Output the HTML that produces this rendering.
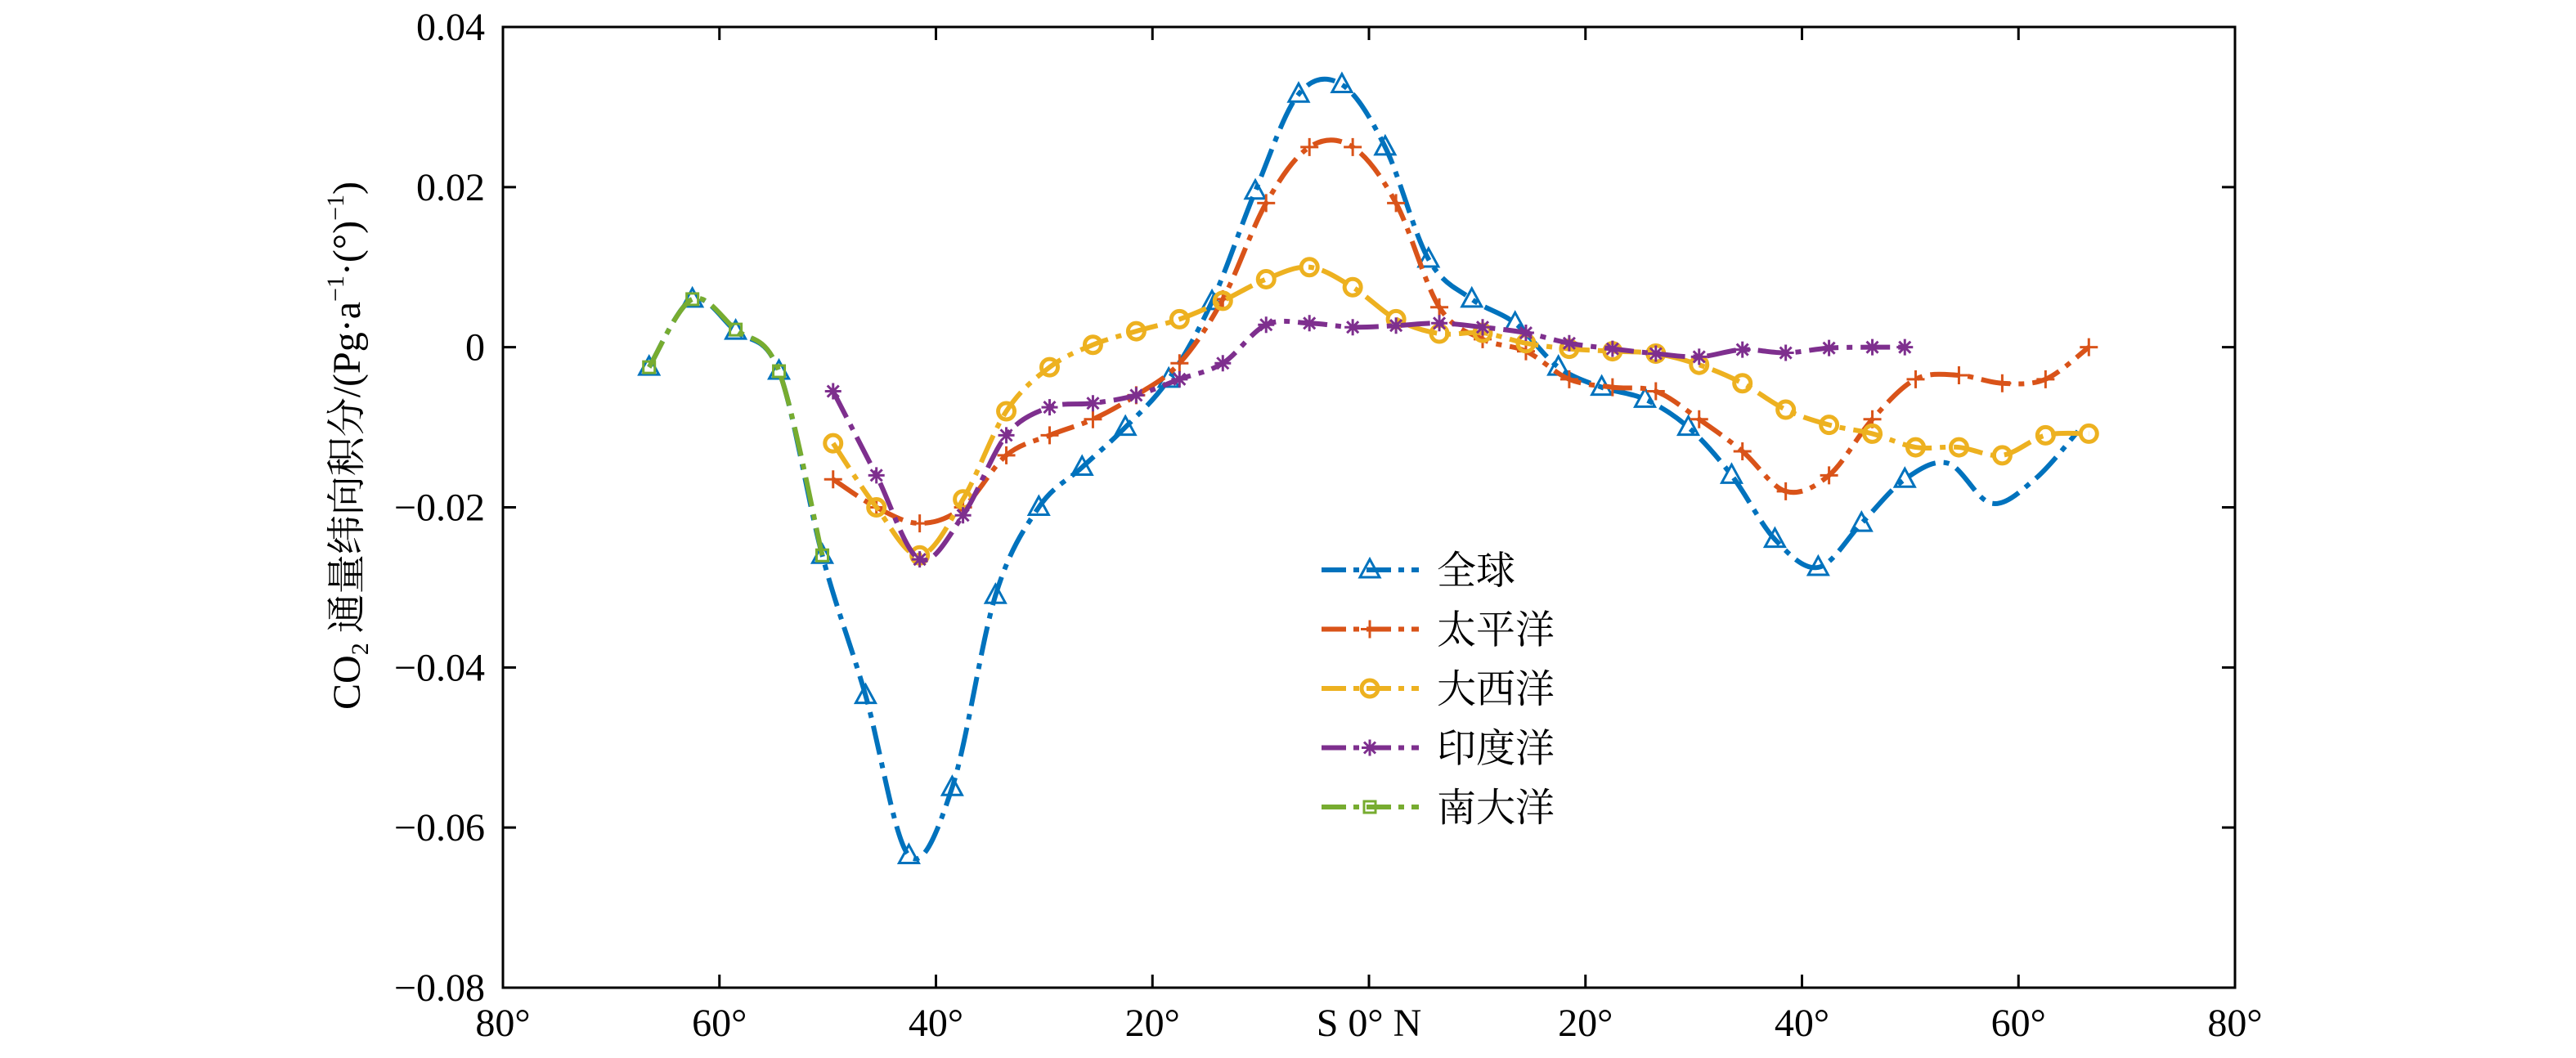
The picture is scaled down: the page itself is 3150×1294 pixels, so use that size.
<!DOCTYPE html>
<html><head><meta charset="utf-8"><style>
html,body{margin:0;padding:0;background:#fff;}
svg text{font-family:"Liberation Serif","Noto Serif CJK SC",serif;fill:#000;}
</style></head><body>
<svg id="chart" width="3150" height="1289" viewBox="0 0 3150 1289" xmlns="http://www.w3.org/2000/svg">
<g id="plot"></g>
</svg>
<script>
const lats = [-49.5,-45.5,-41.5,-37.5,-33.5,-29.5,-25.5,-21.5,-17.5,-13.5,-9.5,-5.5,-1.5,2.5,6.5,10.5,14.5,18.5,22.5,26.5,30.5,34.5,38.5,42.5,46.5,50.5,54.5,58.5,62.5,66.5];
const globalLats = [-66.5,-62.5,-58.5,-54.5,-50.5,-46.5,-42.5,-38.5,-34.5,-30.5,-26.5,-22.5,-18.5,-14.5,-10.5,-6.5,-2.5,1.5,5.5,9.5,13.5,17.5,21.5,25.5,29.5,33.5,37.5,41.5,45.5,49.5,53.5,57.5,61.5,65.5];
const globalVals = [-0.0025,0.006,0.002,-0.003,-0.026,-0.0435,-0.0635,-0.055,-0.031,-0.020,-0.015,-0.010,-0.004,0.0057,0.0195,0.0316,0.0328,0.025,0.011,0.006,0.003,-0.0025,-0.005,-0.0065,-0.010,-0.016,-0.024,-0.0275,-0.022,-0.0165,-0.0145,-0.0195,-0.0165,-0.0105];
const pacificVals = [-0.0165,-0.020,-0.022,-0.020,-0.0135,-0.011,-0.009,-0.006,-0.002,0.006,0.018,0.025,0.025,0.018,0.005,0.001,-0.0005,-0.004,-0.005,-0.0055,-0.009,-0.013,-0.018,-0.016,-0.009,-0.004,-0.0035,-0.0045,-0.004,0];
const atlanticVals = [-0.012,-0.020,-0.026,-0.019,-0.008,-0.0025,0.0003,0.002,0.0035,0.0058,0.0085,0.010,0.0075,0.0035,0.0017,0.0018,0.0005,-0.0002,-0.0005,-0.0008,-0.0022,-0.0045,-0.0078,-0.0097,-0.0108,-0.0125,-0.0125,-0.0135,-0.011,-0.0108];
const indianLats = [-49.5,-45.5,-41.5,-37.5,-33.5,-29.5,-25.5,-21.5,-17.5,-13.5,-9.5,-5.5,-1.5,2.5,6.5,10.5,14.5,18.5,22.5,26.5,30.5,34.5,38.5,42.5,46.5,49.5];
const indianVals = [-0.0055,-0.016,-0.0265,-0.021,-0.011,-0.0075,-0.007,-0.006,-0.004,-0.002,0.0028,0.003,0.0025,0.0027,0.003,0.0025,0.0018,0.0005,-0.0002,-0.0008,-0.0012,-0.0003,-0.0007,-0.0001,0,0];
const southernLats = [-66.5,-62.5,-58.5,-54.5,-50.5];
const southernVals = [-0.0025,0.006,0.0022,-0.003,-0.026];
const xTicks = [-80,-60,-40,-20,0,20,40,60,80];
const xTickLabels = ["80°","60°","40°","20°","S 0° N","20°","40°","60°","80°"];
const yTicks = [-0.08,-0.06,-0.04,-0.02,0,0.02,0.04];
const yTickLabels = ["−0.08","−0.06","−0.04","−0.02","0","0.02","0.04"];

const L=615,R=2733,T=33,B=1208;
const X=v=>L+(v+80)/160*(R-L);
const Y=v=>B-(v+0.08)/0.12*(B-T);
const NS="http://www.w3.org/2000/svg";
const g=document.getElementById('plot');
function mk(tag,attrs,parent){const e=document.createElementNS(NS,tag);for(const k in attrs)e.setAttribute(k,attrs[k]);(parent||g).appendChild(e);return e;}

const box=mk('rect',{x:L,y:T,width:R-L,height:B-T,fill:'none',stroke:'#000','stroke-width':3});


xTicks.forEach((t,i)=>{
  const x=X(t);
  const tk=mk('path',{d:`M${x},${B}v-16M${x},${T}v16`,stroke:'#000','stroke-width':3});
  
  
  const tx=mk('text',{x:x,y:1267,'font-size':48,'text-anchor':'middle'});
  tx.textContent=xTickLabels[i];
  
  
});
yTicks.forEach((t,i)=>{
  const y=Y(t);
  const tk=mk('path',{d:`M${L},${y}h16M${R},${y}h-16`,stroke:'#000','stroke-width':3});
  
  
  const tx=mk('text',{x:593,y:y+16,'font-size':48,'text-anchor':'end'});
  tx.textContent=yTickLabels[i];
  
  
});
const yl=mk('text',{x:0,y:0,'font-size':48,'text-anchor':'middle',transform:'translate(440,545) rotate(-90)'});
yl.innerHTML='CO<tspan font-size="30" dy="10">2</tspan><tspan dy="-10"> 通量纬向积分/(Pg·a</tspan><tspan font-size="30" dy="-20">−1</tspan><tspan dy="20">·(°)</tspan><tspan font-size="30" dy="-20">−1</tspan><tspan dy="20">)</tspan>';



function spline(pts){
  let d=`M${pts[0][0]},${pts[0][1]}`;
  for(let i=0;i<pts.length-1;i++){
    const p0=pts[Math.max(i-1,0)],p1=pts[i],p2=pts[i+1],p3=pts[Math.min(i+2,pts.length-1)];
    const c1=[p1[0]+(p2[0]-p0[0])/6,p1[1]+(p2[1]-p0[1])/6],c2=[p2[0]-(p3[0]-p1[0])/6,p2[1]-(p3[1]-p1[1])/6];
    d+=`C${c1[0]},${c1[1]} ${c2[0]},${c2[1]} ${p2[0]},${p2[1]}`;
  }
  return d;
}
function marker(type,x,y,color,parent){
  let e;
  if(type==='tri') e=mk('path',{d:`M${x},${y-13}L${x+12},${y+9}L${x-12},${y+9}Z`,fill:'none',stroke:color,'stroke-width':3},parent);
  else if(type==='plus') e=mk('path',{d:`M${x-11},${y}h22M${x},${y-11}v22`,stroke:color,'stroke-width':3},parent);
  else if(type==='circ') e=mk('circle',{cx:x,cy:y,r:10,fill:'none',stroke:color,'stroke-width':5},parent);
  else if(type==='star') e=mk('path',{d:`M${x-10},${y}h20M${x},${y-10}v20M${x-7},${y-7}l14,14M${x-7},${y+7}l14,-14`,stroke:color,'stroke-width':3},parent);
  else e=mk('rect',{x:x-7,y:y-7,width:14,height:14,fill:'none',stroke:color,'stroke-width':3},parent);
  
  
}
const dash='36 10 7 10';
function series(name,xs,ys,color,type,maxMarkLat){
  const sg=mk('g',{});
  
  
  const pts=xs.map((x,i)=>[X(x),Y(ys[i])]);
  const p=mk('path',{d:spline(pts),fill:'none',stroke:color,'stroke-width':6,'stroke-dasharray':dash},sg);
  
  
  pts.forEach((q,i)=>{ if(maxMarkLat===undefined||xs[i]<=maxMarkLat) marker(type,q[0],q[1],color,sg); });
}
series('global',globalLats,globalVals,'#0072BD','tri',50);
series('pacific',lats,pacificVals,'#D95319','plus');
series('atlantic',lats,atlanticVals,'#EDB120','circ');
series('indian',indianLats,indianVals,'#7E2F8E','star');
series('southern',southernLats,southernVals,'#77AC30','sq');

const legNames=['全球','太平洋','大西洋','印度洋','南大洋'];
const legColors=['#0072BD','#D95319','#EDB120','#7E2F8E','#77AC30'];
const legTypes=['tri','plus','circ','star','sq'];
const lg=mk('g',{});


legNames.forEach((n,i)=>{
  const y=697+i*72.5;
  const eg=mk('g',{},lg);
  
  
  mk('path',{d:`M1616,${y}H1735`,stroke:legColors[i],'stroke-width':6,'stroke-dasharray':'30 9 7 9'},eg);
  marker(legTypes[i],1675,y,legColors[i],eg);
  const t=mk('text',{x:1757,y:y+17,'font-size':48},eg);
  t.textContent=n;
});
</script>
</body></html>
